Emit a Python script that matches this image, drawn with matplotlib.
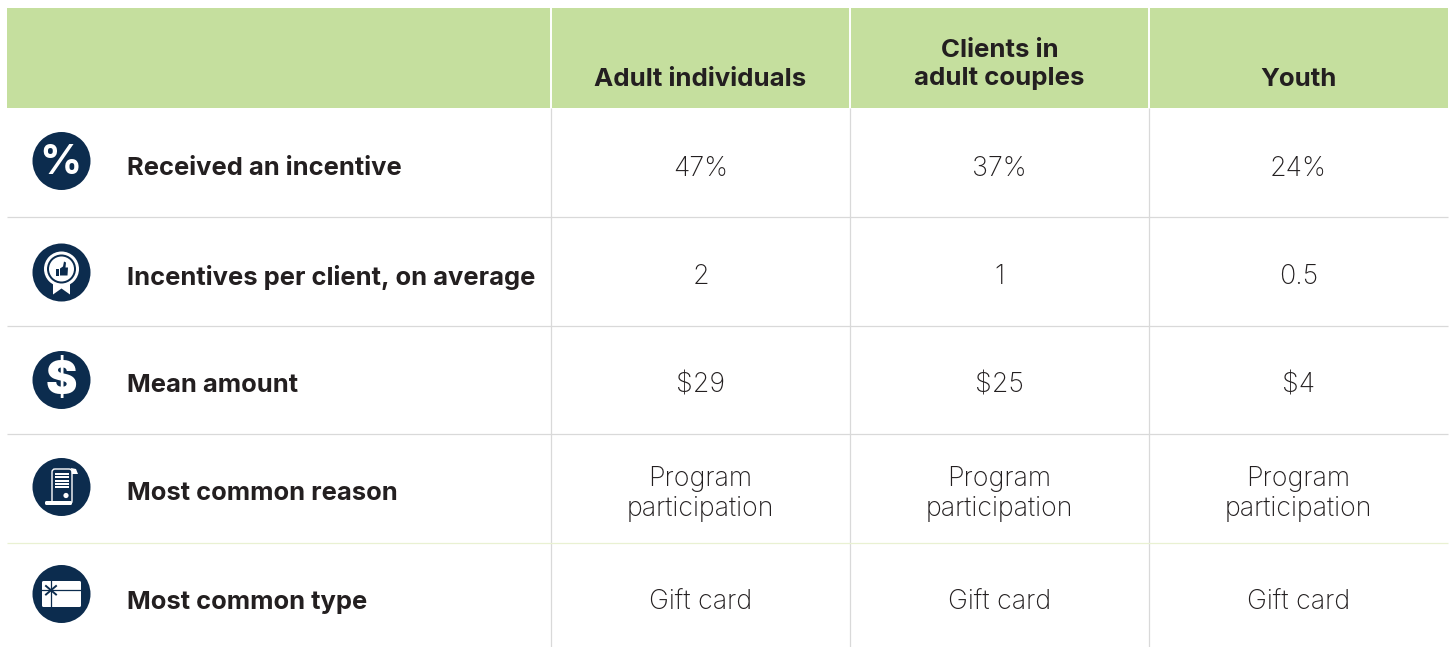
import matplotlib.pyplot as plt
from matplotlib.patches import Circle, Rectangle, FancyBboxPatch, Polygon

columns = ['Adult individuals', 'Clients in\nadult couples', 'Youth']
rows = ['Received an incentive', 'Incentives per client, on average', 'Mean amount',
        'Most common reason', 'Most common type']
adults = ['47%', '2', '$29', 'Program\nparticipation', 'Gift card']
couples = ['37%', '1', '$25', 'Program\nparticipation', 'Gift card']
youth = ['24%', '0.5', '$4', 'Program\nparticipation', 'Gift card']

navy = '#0C2C4E'
dark = '#231F20'
green = '#C5DF9E'
grey = '#D9D9D9'
plt.rcParams['font.family'] = ['Inter', 'DejaVu Sans']

W, H = 1450, 647
fig = plt.figure(figsize=(W / 100, H / 100), dpi=100)
ax = fig.add_axes([0, 0, 1, 1])
ax.set_xlim(0, W)
ax.set_ylim(H, 0)
ax.axis('off')

left, right = 7, 1448
head_top, head_bot = 8, 108
col_edges = [551, 850, 1149, 1448]
row_lines = [217, 325.5, 434, 542.5]
row_mid = [168.5, 277, 385.5, 494, 602.5]
icon_y = [161, 272.5, 380, 487, 594]
icon_x = 61.5

# header and rules
ax.add_patch(Rectangle((left, head_top), right - left, head_bot - head_top, fc=green, ec='none'))
for x in col_edges[:3]:
    ax.plot([x, x], [head_top, head_bot], color='white', lw=1.4, solid_capstyle='butt')
    ax.plot([x, x], [head_bot, H], color=grey, lw=0.9, solid_capstyle='butt')
for i, y in enumerate(row_lines):
    c = '#E9F1D2' if i == 3 else grey
    ax.plot([left, right], [y, y], color=c, lw=0.9, solid_capstyle='butt')

# text
header_y = [79, 64.5, 79]
for i, name in enumerate(columns):
    cx = (col_edges[i] + col_edges[i + 1]) / 2
    ax.text(cx, header_y[i], name, ha='center', va='center',
            fontsize=18.6, fontweight='bold', color=dark, linespacing=1.25)
for i, name in enumerate(rows):
    ax.text(127, row_mid[i], name, ha='left', va='center', fontsize=18.4, fontweight='bold', color=dark)
    for j, col in enumerate([adults, couples, youth]):
        cx = (col_edges[j] + col_edges[j + 1]) / 2
        ax.text(cx, row_mid[i], col[i], ha='center', va='center', fontsize=19.3,
                fontweight='light', color=dark, linespacing=1.2)

# icon discs
for y in icon_y:
    ax.add_patch(Circle((icon_x, y), 29, fc=navy, ec='none', zorder=3))

# percent and dollar
ax.text(icon_x - 1, icon_y[0] + 1.5, '%', ha='center', va='center', color='white', fontsize=30,
        fontweight='bold', zorder=4)
ax.text(icon_x, icon_y[2] + 1.5, '$', ha='center', va='center', color='white', fontsize=34,
        fontweight='black', zorder=4)

# badge
y = icon_y[1]
ax.add_patch(Polygon([(53, y + 4), (70, y + 4), (70, y + 22), (61.5, y + 16), (53, y + 22)],
                     fc='white', ec='none', zorder=4))
ax.add_patch(Circle((icon_x, y - 3.5), 17.5, fc='white', ec='none', zorder=4))
ax.add_patch(Circle((icon_x, y - 3.5), 14.5, fc=navy, ec='none', zorder=5))
ax.add_patch(Circle((icon_x, y - 3.5), 12.5, fc='white', ec='none', zorder=6))
ax.add_patch(Rectangle((56, y - 4), 3, 7, fc=navy, ec='none', zorder=7))
ax.add_patch(Polygon([(60, y - 4), (63, y - 6), (64, y - 11), (66, y - 10), (65.5, y - 5),
                      (68, y - 5), (67.5, y + 3), (60, y + 3)], fc=navy, ec='none', zorder=7))

# scroll
y = icon_y[3]
ax.add_patch(FancyBboxPatch((52, y - 18), 20, 35, boxstyle='round,pad=0,rounding_size=3',
                            fc=navy, ec='white', lw=1.0, zorder=4))
ax.add_patch(Polygon([(71, y - 19), (76, y - 18), (78, y - 13), (72, y - 13)], fc='white', ec='none', zorder=4))
ax.add_patch(FancyBboxPatch((45, y + 14), 27, 4, boxstyle='round,pad=0,rounding_size=1.5',
                            fc='white', ec='none', zorder=5))
ax.add_patch(Circle((66, y + 8.5), 2.6, fc='white', ec='none', zorder=5))
for k in range(5):
    ax.add_patch(Rectangle((55, y - 14 + k * 3.3), 14, 2, fc='white', ec='none', zorder=5))

# gift card
y = icon_y[4]
ax.add_patch(FancyBboxPatch((42, y - 13), 39, 26, boxstyle='round,pad=0,rounding_size=1.5',
                            fc='white', ec='none', zorder=4))
ax.plot([51, 51], [y - 13, y + 13], color=navy, lw=0.9, zorder=5)
ax.plot([42, 81], [y - 4, y - 4], color=navy, lw=0.9, zorder=5)
ax.plot([46, 56], [y - 8, y + 0.5], color=navy, lw=1.4, zorder=5)
ax.plot([46, 56], [y + 0.5, y - 8], color=navy, lw=1.4, zorder=5)

fig.savefig('out.png', dpi=100, facecolor='white')
